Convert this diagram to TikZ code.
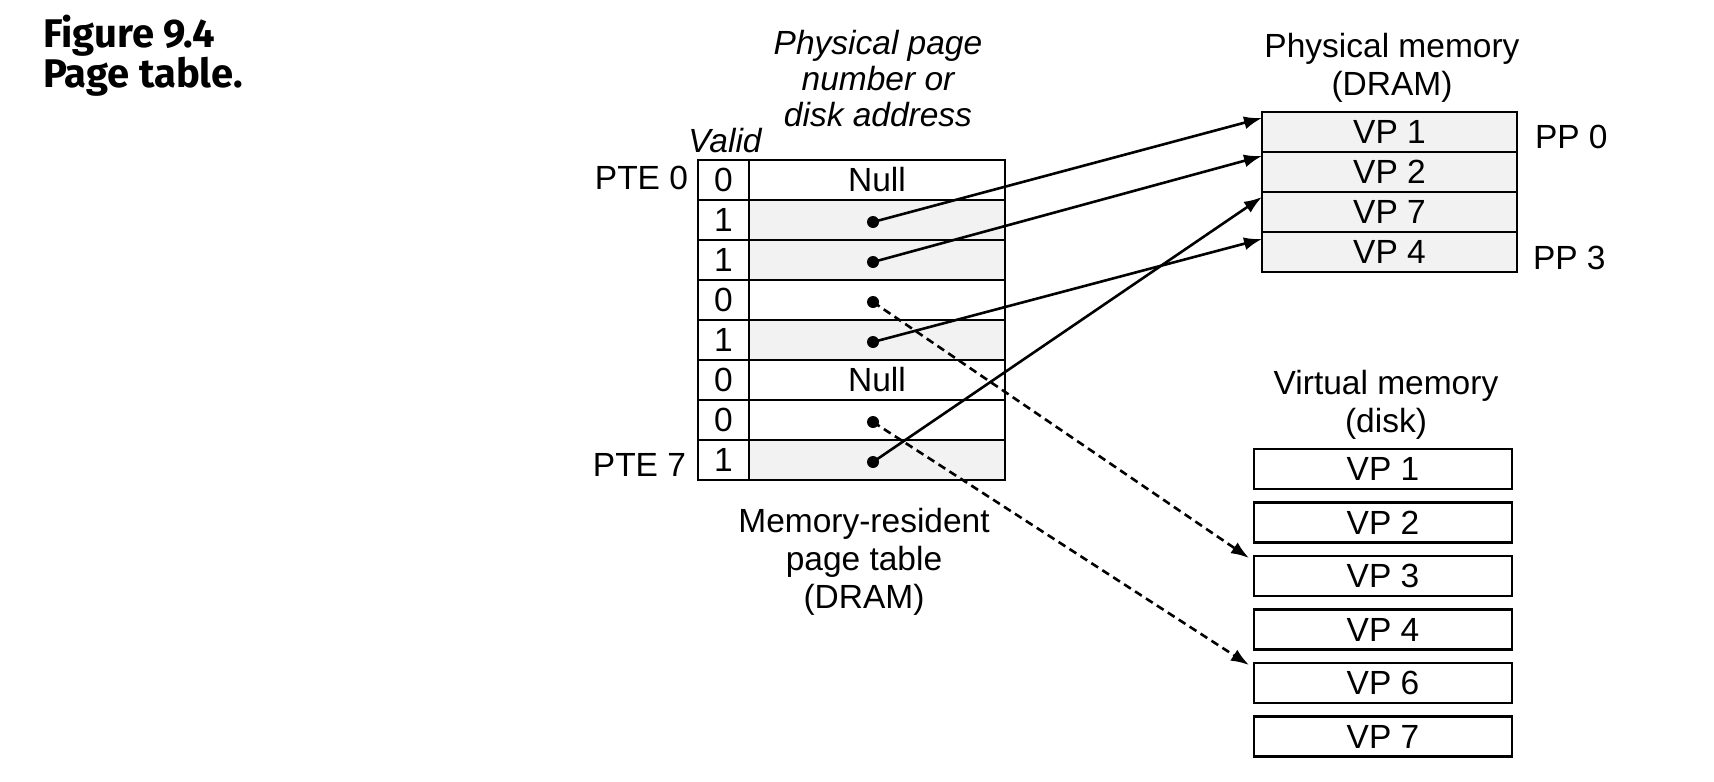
\documentclass[tikz,border=0pt]{standalone}
\usepackage{fontspec}
\setmainfont{Liberation Sans}
\newfontfamily\capfont{Fira Sans}
\usetikzlibrary{arrows.meta}
\begin{document}
\begin{tikzpicture}[x=1pt,y=-1pt,
  every node/.style={inner sep=0pt, outer sep=0pt},
  lbl/.style={font=\fontsize{33.5}{38}\selectfont, align=center},
  cell/.style={draw, line width=2.6pt, minimum height=40pt, font=\fontsize{33.5}{38}\selectfont},
  vcell/.style={cell, minimum width=51pt},
  acell/.style={cell, minimum width=256pt},
  shade/.style={fill=black!5},
  pmbox/.style={cell, minimum width=255pt, shade},
  vmbox/.style={cell, minimum width=258pt},
  dotn/.style={circle, fill, minimum size=12pt},
  arr/.style={line width=2.6pt, -{Latex[length=18pt,width=13pt]}},
  darr/.style={arr, dash pattern=on 8pt off 5pt},
]
\useasboundingbox[fill=white] (0,0) rectangle (1714,782);

% caption
\node[anchor=base west, align=left, font=\capfont\bfseries\fontsize{40}{40}\selectfont] (cap) at (43,87) {Figure 9.4\\Page table.};

% headings
\node[lbl, font=\itshape\fontsize{33.5}{36}\selectfont] (hppn) at (878,79) {Physical page\\number or\\disk address};
\node[lbl, font=\itshape\fontsize{33.5}{38}\selectfont] (hvalid) at (725,141) {Valid};
\node[lbl] (hpm) at (1392,68) {Physical memory\\(DRAM)};
\node[lbl] (hvm) at (1386,405) {Virtual memory\\(disk)};
\node[lbl] (hpt) at (864,562) {Memory-resident\\page table\\(DRAM)};

% page table
\foreach \i/\v/\t/\s in {0/0/Null/, 1/1//shade, 2/1//shade, 3/0//, 4/1//shade, 5/0/Null/, 6/0//, 7/1//shade} {
  \node[vcell] (v\i) at (723.5,180+40*\i) {\v};
  \node[acell,\s] (a\i) at (877,180+40*\i) {\t};
}
\node[lbl, anchor=east] (pte0) at (688,178) {PTE 0};
\node[lbl, anchor=east] (pte7) at (686,465) {PTE 7};

% physical memory
\foreach \i/\t in {0/VP 1, 1/VP 2, 2/VP 7, 3/VP 4} {
  \node[pmbox] (pm\i) at (1389.5,132+40*\i) {\t};
}
\node[lbl, anchor=west] (pp0) at (1535,137) {PP 0};
\node[lbl, anchor=west] (pp3) at (1533,258) {PP 3};

% virtual memory
\foreach \k/\t in {0/1, 1/2, 2/3, 3/4, 4/6, 5/7} {
  \node[vmbox] (vm\t) at (1383,469+53.5*\k) {VP \t};
}

% dots
\foreach \i in {1,2,3,4,6,7} {
  \node[dotn] (d\i) at ([xshift=-4pt,yshift=-2pt]a\i.center) {};
}

% arrows
\draw[arr] (d1.center) -- ([yshift=-6pt]pm0.north west);
\draw[arr] (d2.center) -- ([yshift=-4pt]pm1.north west);
\draw[arr] (d7.center) -- ([yshift=-5pt]pm2.north west);
\draw[arr] (d4.center) -- ([yshift=-7pt]pm3.north west);
\draw[darr] (d3.center) -- ([xshift=-5pt,yshift=-2pt]vm3.north west);
\draw[darr] (d6.center) -- ([xshift=-5pt,yshift=-2pt]vm6.north west);
\end{tikzpicture}
\end{document}
